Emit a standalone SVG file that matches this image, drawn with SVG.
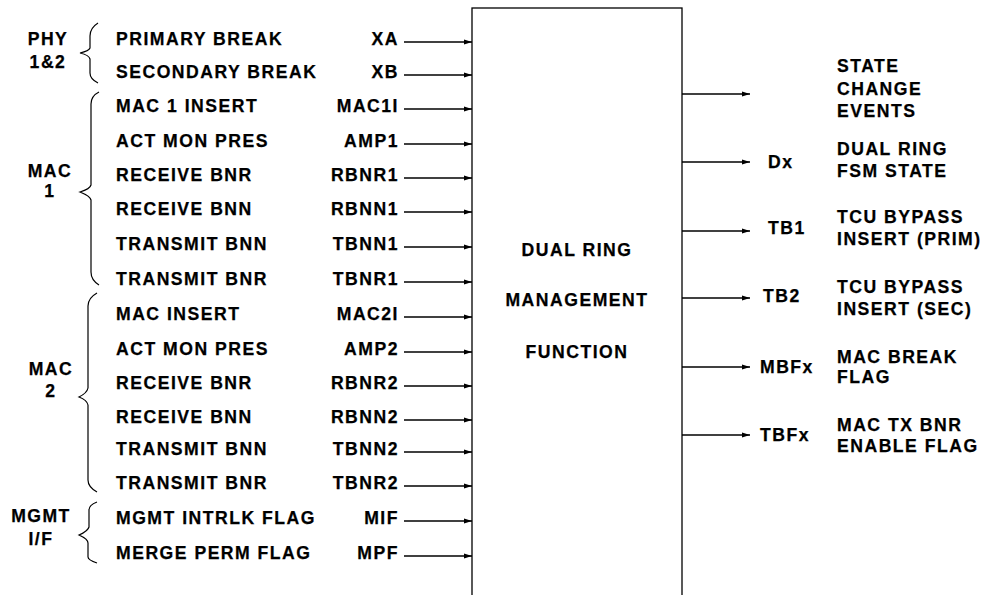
<svg xmlns="http://www.w3.org/2000/svg" width="990" height="595" viewBox="0 0 990 595">
<defs>
<style>
text{font-family:"Liberation Sans",Arial,sans-serif;font-weight:bold;font-size:17.6px;letter-spacing:1.5px;fill:#000;stroke:#000;stroke-width:0.25}
.e{text-anchor:end}
.m{text-anchor:middle}
.ln{stroke:#000;stroke-width:1.3;fill:none}
.br{stroke:#000;stroke-width:1.2;fill:none}
</style>
<marker id="ah" viewBox="0 0 8 6" refX="8" refY="3" markerWidth="8" markerHeight="6" markerUnits="userSpaceOnUse" orient="auto">
<path d="M0,0.5 L8,3 L0,5.5 Z" fill="#000"/>
</marker>
</defs>
<rect width="990" height="595" fill="#fff"/>

<g id="main-box">
<rect x="472" y="8" width="210" height="600" class="ln"/>
<text x="577" y="256" class="m">DUAL RING</text>
<text x="577" y="306" class="m">MANAGEMENT</text>
<text x="577" y="358" class="m">FUNCTION</text>
</g>

<g id="group-phy">
<path class="br" d="M98,23 Q90,28 90,36 L90,48 Q89,51 80,53 Q89,55 90,59 L90,73 Q90,79 98,83"/>
<text x="48" y="45" class="m">PHY</text>
<text x="48" y="68" class="m">1&amp;2</text>
</g>
<g id="group-mac1">
<path class="br" d="M99,92 Q91,96 91,104 L91,185 Q90,189 80,192 Q90,196 91,200 L91,272 Q91,280 99,285"/>
<text x="50" y="177" class="m">MAC</text>
<text x="50" y="197" class="m">1</text>
</g>
<g id="group-mac2">
<path class="br" d="M97,293 Q88,298 88,306 L88,388 Q87,393 79,397 Q87,400 88,405 L88,480 Q88,487 97,492"/>
<text x="51" y="375" class="m">MAC</text>
<text x="51" y="397" class="m">2</text>
</g>
<g id="group-mgmt">
<path class="br" d="M97,502 Q89,505 89,510 L89,527 Q88,531 79,535 Q88,539 88,543 L88,557 Q88,560 97,563"/>
<text x="41" y="522" class="m">MGMT</text>
<text x="41" y="545" class="m">I/F</text>
</g>

<g id="inputs">
<text x="116" y="45">PRIMARY BREAK</text><text x="399" y="45" class="e">XA</text>
<text x="116" y="78">SECONDARY BREAK</text><text x="399" y="78" class="e">XB</text>
<text x="116" y="112">MAC 1 INSERT</text><text x="399" y="112" class="e">MAC1I</text>
<text x="116" y="147">ACT MON PRES</text><text x="399" y="147" class="e">AMP1</text>
<text x="116" y="181">RECEIVE BNR</text><text x="399" y="181" class="e">RBNR1</text>
<text x="116" y="215">RECEIVE BNN</text><text x="399" y="215" class="e">RBNN1</text>
<text x="116" y="250">TRANSMIT BNN</text><text x="399" y="250" class="e">TBNN1</text>
<text x="116" y="285">TRANSMIT BNR</text><text x="399" y="285" class="e">TBNR1</text>
<text x="116" y="320">MAC INSERT</text><text x="399" y="320" class="e">MAC2I</text>
<text x="116" y="355">ACT MON PRES</text><text x="399" y="355" class="e">AMP2</text>
<text x="116" y="389">RECEIVE BNR</text><text x="399" y="389" class="e">RBNR2</text>
<text x="116" y="423">RECEIVE BNN</text><text x="399" y="423" class="e">RBNN2</text>
<text x="116" y="455">TRANSMIT BNN</text><text x="399" y="455" class="e">TBNN2</text>
<text x="116" y="489">TRANSMIT BNR</text><text x="399" y="489" class="e">TBNR2</text>
<text x="116" y="524">MGMT INTRLK FLAG</text><text x="399" y="524" class="e">MIF</text>
<text x="116" y="559">MERGE PERM FLAG</text><text x="399" y="559" class="e">MPF</text>
</g>

<g id="outputs">
<text x="837" y="72">STATE</text>
<text x="837" y="95">CHANGE</text>
<text x="837" y="117">EVENTS</text>
<text x="768" y="168">Dx</text>
<text x="837" y="155">DUAL RING</text>
<text x="837" y="177">FSM STATE</text>
<text x="768" y="234">TB1</text>
<text x="837" y="223">TCU BYPASS</text>
<text x="837" y="245">INSERT (PRIM)</text>
<text x="763" y="302">TB2</text>
<text x="837" y="293">TCU BYPASS</text>
<text x="837" y="315">INSERT (SEC)</text>
<text x="760" y="373">MBFx</text>
<text x="837" y="363">MAC BREAK</text>
<text x="837" y="383">FLAG</text>
<text x="760" y="441">TBFx</text>
<text x="837" y="431">MAC TX BNR</text>
<text x="837" y="452">ENABLE FLAG</text>
</g>

<g id="connectors" class="ln" marker-end="url(#ah)">
<path d="M404,42 H472"/>
<path d="M404,75 H472"/>
<path d="M404,109 H472"/>
<path d="M404,144 H472"/>
<path d="M404,178 H472"/>
<path d="M404,212 H472"/>
<path d="M404,247 H472"/>
<path d="M404,282 H472"/>
<path d="M404,317 H472"/>
<path d="M404,352 H472"/>
<path d="M404,386 H472"/>
<path d="M404,420 H472"/>
<path d="M404,452 H472"/>
<path d="M404,486 H472"/>
<path d="M404,521 H472"/>
<path d="M404,556 H472"/>
<path d="M682,94 H750"/>
<path d="M682,162 H750"/>
<path d="M682,231 H750"/>
<path d="M682,298 H750"/>
<path d="M682,367 H750"/>
<path d="M682,435 H750"/>
</g>
</svg>
